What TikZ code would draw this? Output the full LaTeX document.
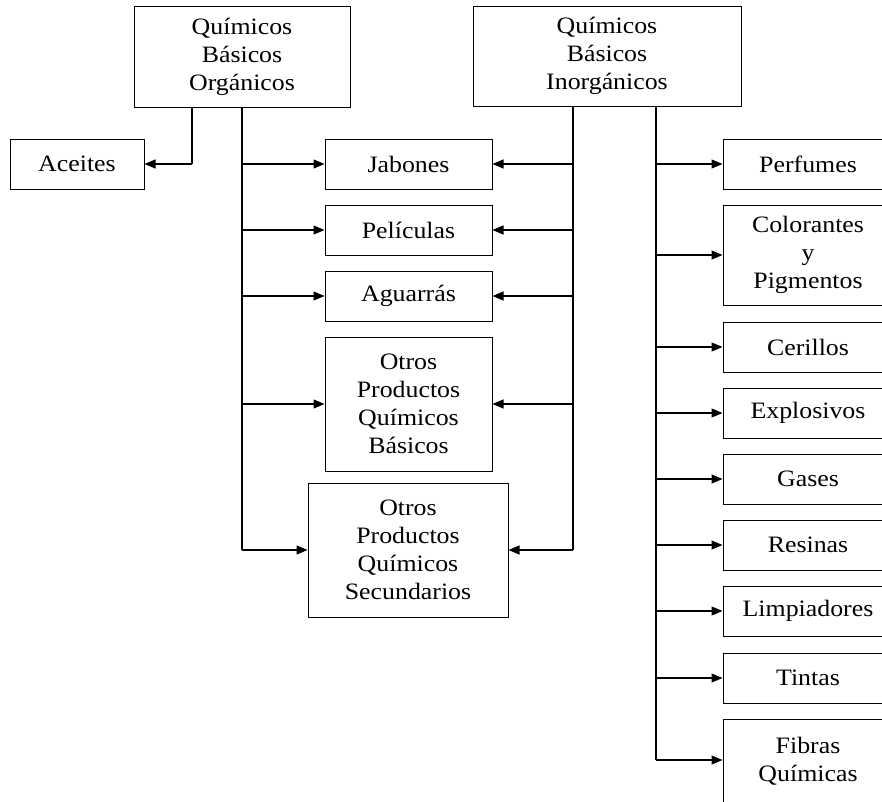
\documentclass[tikz,border=0pt]{standalone}
\usepackage{fontspec}
\setmainfont{Liberation Serif}[FakeStretch=1.1]
\usetikzlibrary{arrows.meta}
\tikzset{
	box/.style = {
		draw=black,
		line width=1pt,
		align=center,
		inner sep=0pt,
		text centered,
		font=\fontsize{23.5}{28}\selectfont
	},
	box_s/.style = {
		box,
		minimum width=167pt,
		minimum height=50pt
	},
	box_r/.style = {
		box,
		minimum width=170pt,
		minimum height=50pt
	},
	arr/.style = {
		-{Triangle[length=11pt,width=9pt]},
		line width=1.1pt
	},
	link/.style = {
		-,
		line width=1.1pt
	},
}

\begin{document}
\begin{tikzpicture}[x=1pt,y=-1pt]
\useasboundingbox (0,0) rectangle (882,801);
\clip (0,0) rectangle (882,801);
% top boxes
\node [box,minimum width=216pt,minimum height=101pt] (qbo) at (242,56.5) {Químicos\\Básicos\\Orgánicos};
\node [box,minimum width=268pt,minimum height=100pt] (qbi) at (607,56) {Químicos\\Básicos\\Inorgánicos};
% left side
\node [box,minimum width=134pt,minimum height=50pt] (aceites) at (77,164) {Aceites};
% middle column
\node [box_s] (jabones) at (408.5,164) {Jabones};
\node [box_s] (peliculas) at (408.5,230) {Películas};
\node [box_s] (aguarras) at (408.5,296) {Aguarrás};
\node [box_s,minimum height=134pt] (otros_bas) at (408.5,404) {Otros\\Productos\\Químicos\\Básicos};
\node [box,minimum width=200pt,minimum height=134pt] (otros_sec) at (408,550) {Otros\\Productos\\Químicos\\Secundarios};
% right column
\node [box_r] (perfumes) at (808,164) {Perfumes};
\node [box_r,minimum height=100pt] (colorantes) at (808,255) {Colorantes\\y\\Pigmentos};
\node [box_r] (cerillos) at (808,347) {Cerillos};
\node [box_r] (explosivos) at (808,413) {Explosivos};
\node [box_r] (gases) at (808,479) {Gases};
\node [box_r] (resinas) at (808,545) {Resinas};
\node [box_r] (limpiadores) at (808,611) {Limpiadores};
\node [box_r] (tintas) at (808,678) {Tintas};
\node [box_r,minimum height=84pt] (fibras) at (808,761) {Fibras\\Químicas};

% trunks
\coordinate (t_ace) at (192,0);
\coordinate (t_org) at (242,0);
\coordinate (t_ino) at (573,0);
\coordinate (t_rgt) at (656,0);

\draw [link] (qbo.south -| t_ace) -- (aceites.east -| t_ace);
\draw [arr] (aceites.east -| t_ace) -- (aceites.east);

\draw [link] (qbo.south -| t_org) -- (otros_sec.west -| t_org);
\foreach \n in {jabones,peliculas,aguarras,otros_bas,otros_sec}
	\draw [arr] (\n.west -| t_org) -- (\n.west);

\draw [link] (qbi.south -| t_ino) -- (otros_sec.east -| t_ino);
\foreach \n in {jabones,peliculas,aguarras,otros_bas,otros_sec}
	\draw [arr] (\n.east -| t_ino) -- (\n.east);

\draw [link] (qbi.south -| t_rgt) -- (t_rgt |- 0,760);
\foreach \n in {perfumes,colorantes,cerillos,explosivos,gases,resinas,limpiadores,tintas}
	\draw [arr] (\n.west -| t_rgt) -- (\n.west);
\draw [arr] (t_rgt |- 0,760) -- (fibras.west |- 0,760);
\end{tikzpicture}
\end{document}
